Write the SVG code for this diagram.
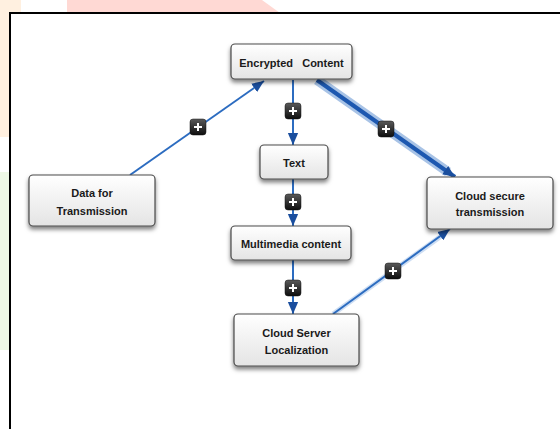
<svg xmlns="http://www.w3.org/2000/svg" width="560" height="429" viewBox="0 0 560 429">
<style>
.node rect.box{fill:url(#nodeGrad);stroke:#4a4a4a;stroke-width:1.2;filter:url(#shadow)}
.node text{font-family:"Liberation Sans",Arial,sans-serif;font-weight:bold;font-size:11px;fill:#1a1a1a;text-anchor:middle}
.conn{stroke:#2c6cc0;stroke-width:2;fill:none}
.thick-halo{stroke:#a8c3e6;stroke-width:10;fill:none;stroke-linecap:butt}
.thick{stroke:#1d58b0;stroke-width:4;fill:none}
.halo{stroke:#b9d0ee;stroke-width:5;fill:none;opacity:0.7}
.badge rect{fill:url(#badgeGrad);stroke:#111;stroke-width:0.5}
.badge path{stroke:#fff;stroke-width:2;fill:none}
</style>
<defs>
<linearGradient id="nodeGrad" x1="0" y1="0" x2="0" y2="1">
<stop offset="0" stop-color="#ffffff"/>
<stop offset="1" stop-color="#e4e4e4"/>
</linearGradient>
<linearGradient id="badgeGrad" x1="0" y1="0" x2="0" y2="1">
<stop offset="0" stop-color="#5a5a5a"/>
<stop offset="1" stop-color="#0d0d0d"/>
</linearGradient>
<filter id="shadow" x="-10%" y="-20%" width="120%" height="160%">
<feDropShadow dx="0" dy="3" stdDeviation="2" flood-color="#000" flood-opacity="0.5"/>
</filter>
<marker id="arr" markerUnits="userSpaceOnUse" markerWidth="12" markerHeight="14" viewBox="0 0 14 12" refX="14" refY="6" orient="auto">
<path d="M0,0 L14,6 L0,12 Z" fill="#1a4e9e"/>
</marker>
</defs>
<!-- background outside frame -->
<rect x="0" y="0" width="560" height="429" fill="#ffffff"/>
<rect x="0" y="0" width="21" height="13" fill="#fff0e0"/>
<rect x="0" y="0" width="12" height="137" fill="#fff0e0"/>
<rect x="0" y="172" width="12" height="178" fill="#eef8e6"/>
<path d="M67,0 L262,0 L280,13 L67,13 Z" fill="#ffd9d4"/>
<!-- frame -->
<rect x="10" y="13" width="570" height="430" fill="#ffffff" stroke="#000" stroke-width="2"/>

<g id="connectors">
<line class="conn" x1="130" y1="175" x2="264" y2="81" marker-end="url(#arr)"/>
<line class="conn" x1="293" y1="80" x2="293" y2="145" marker-end="url(#arr)"/>
<line class="conn" x1="293" y1="179" x2="293" y2="226" marker-end="url(#arr)"/>
<line class="conn" x1="293" y1="260" x2="293" y2="314" marker-end="url(#arr)"/>
<line class="thick-halo" x1="317" y1="80" x2="448" y2="172"/>
<line class="thick" x1="317" y1="80" x2="455" y2="177" marker-end="url(#arr)"/>
<line class="halo" x1="333" y1="314" x2="444" y2="234"/>
<line class="conn" x1="333" y1="314" x2="450" y2="229" marker-end="url(#arr)"/>
<g class="badge"><rect x="190" y="119" width="16" height="16" rx="3"/><path d="M198,123 v8 M194,127 h8"/></g>
<g class="badge"><rect x="285" y="103" width="16" height="16" rx="3"/><path d="M293,107 v8 M289,111 h8"/></g>
<g class="badge"><rect x="285" y="194" width="16" height="16" rx="3"/><path d="M293,198 v8 M289,202 h8"/></g>
<g class="badge"><rect x="285" y="280" width="16" height="16" rx="3"/><path d="M293,284 v8 M289,288 h8"/></g>
<g class="badge"><rect x="378" y="121" width="16" height="16" rx="3"/><path d="M386,125 v8 M382,129 h8"/></g>
<g class="badge"><rect x="385" y="263" width="16" height="16" rx="3"/><path d="M393,267 v8 M389,271 h8"/></g>
</g>

<g id="node-encrypted" class="node">
<rect class="box" x="231" y="44" width="121" height="35" rx="4"/>
<text x="291.5" y="67" xml:space="preserve">Encrypted   Content</text>
</g>
<g id="node-data" class="node">
<rect class="box" x="29" y="175" width="126" height="51" rx="4"/>
<text x="92" y="197">Data for</text>
<text x="92" y="215">Transmission</text>
</g>
<g id="node-cloud-secure" class="node">
<rect class="box" x="427" y="177" width="126" height="52" rx="4"/>
<text x="490" y="200">Cloud secure</text>
<text x="490" y="216">transmission</text>
</g>
<g id="node-text" class="node">
<rect class="box" x="260" y="145" width="68" height="34" rx="4"/>
<text x="294" y="167">Text</text>
</g>
<g id="node-multimedia" class="node">
<rect class="box" x="231" y="226" width="120" height="34" rx="4"/>
<text x="291" y="248">Multimedia content</text>
</g>
<g id="node-cloud-server" class="node">
<rect class="box" x="234" y="314" width="125" height="52" rx="4"/>
<text x="296.5" y="337">Cloud Server</text>
<text x="296.5" y="354">Localization</text>
</g>
</svg>
